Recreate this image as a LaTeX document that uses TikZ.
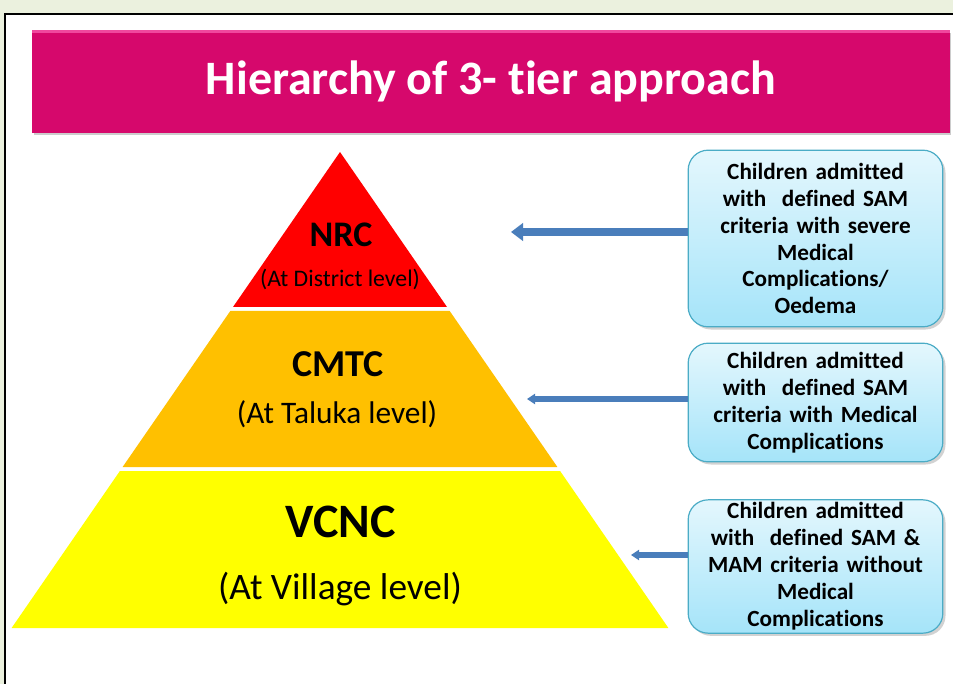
\documentclass[tikz,border=0pt]{standalone}
\usepackage{fontspec}
\setmainfont{Carlito}[Ligatures=CommonOff]
\usetikzlibrary{shadows,arrows.meta,positioning}
\definecolor{bgolive}{HTML}{EBF1DE}
\definecolor{bannerpink}{HTML}{D6086C}
\definecolor{bannerlight}{HTML}{F0489E}
\definecolor{tierred}{HTML}{FF0000}
\definecolor{tierorange}{HTML}{FFC000}
\definecolor{tieryellow}{HTML}{FFFF00}
\definecolor{boxtop}{HTML}{E4F7FD}
\definecolor{boxbottom}{HTML}{A5E4F9}
\definecolor{boxedge}{HTML}{4BACC6}
\definecolor{arrowblue}{HTML}{4A7EBB}
\tikzset{
  infobox/.style={draw=boxedge, line width=0.9pt, rounded corners=15pt,
    top color=boxtop, bottom color=boxbottom, minimum width=191pt,
    text width=185pt, align=center, inner sep=0pt,
    drop shadow={opacity=0.35, shadow xshift=2pt, shadow yshift=-2pt},
    font=\bfseries\fontsize{17.4}{20.2}\selectfont},
  bigarrow/.style={draw=arrowblue, line width=6.5pt,
    -{Triangle[length=9pt, width=13pt]}},
  smallarrow/.style={draw=arrowblue, line width=4.3pt,
    -{Triangle[length=6pt, width=7.5pt]}},
  tiername/.style={font=\bfseries\fontsize{#1}{#1}\selectfont, inner sep=0pt},
  tierlevel/.style={font=\fontsize{#1}{#1}\selectfont, inner sep=0pt}
}
\begin{document}
\begin{tikzpicture}[x=0.75pt, y=-0.75pt]
  \useasboundingbox (0,0) rectangle (953,684);
  \clip (0,0) rectangle (953,684);
  % Fondo y marco
  \fill[bgolive] (0,0) rectangle (953,684);
  \draw[line width=2.2pt, fill=white] (5,14) rectangle (970,700);

  % Titulo
  \node[fill=bannerpink, minimum width=688pt, minimum height=77pt, inner sep=0pt,
    drop shadow={opacity=0.4, shadow xshift=1pt, shadow yshift=-2pt},
    text=white, font=\bfseries\fontsize{36}{36}\selectfont] (title) at (491,81.5)
    {Hierarchy of 3- tier approach};
  \fill[bannerlight] (title.north west) rectangle ([yshift=-2.5pt]title.north east);

  % Piramide
  \fill[tierred] (340,152) -- (447,307) -- (233,307) -- cycle;
  \fill[tierorange] (230.3,311) -- (449.7,311) -- (557.4,467) -- (122.6,467) -- cycle;
  \fill[tieryellow] (119.9,471) -- (560.1,471) -- (668.4,628) -- (11.6,628) -- cycle;

  \node[tiername=27] (nrc) at (341,235) {NRC};
  \node[tierlevel=17.8] (nrclevel) at (340,279) {(At District level)};
  \node[tiername=28.5] (cmtc) at (338,364) {CMTC};
  \node[tierlevel=23.5] (cmtclevel) at (337,414) {(At Taluka level)};
  \node[tiername=36] (vcnc) at (341,522) {VCNC};
  \node[tierlevel=28] (vcnclevel) at (340,589) {(At Village level)};

  % Cajas
  \node[infobox, minimum height=132.5pt] (box1) at (815.5,238.5)
    {Children admitted\\with \ defined SAM\\criteria with severe\\Medical\\Complications/\\Oedema};
  \node[infobox, minimum height=89pt] (box2) at (815.5,402.5)
    {Children admitted\\with \ defined SAM\\criteria with Medical\\Complications};
  \node[infobox, minimum height=100pt] (box3) at (815.5,566.5)
    {Children admitted\\with \ defined SAM \&\\MAM criteria without\\Medical\\Complications};

  % Flechas
  \coordinate (tip1) at (511,232);
  \coordinate (tip2) at (527,399);
  \coordinate (tip3) at (631,555);
  \draw[bigarrow] (tip1 -| box1.west) -- (tip1);
  \draw[smallarrow] (tip2 -| box2.west) -- (tip2);
  \draw[smallarrow] (tip3 -| box3.west) -- (tip3);
\end{tikzpicture}
\end{document}
